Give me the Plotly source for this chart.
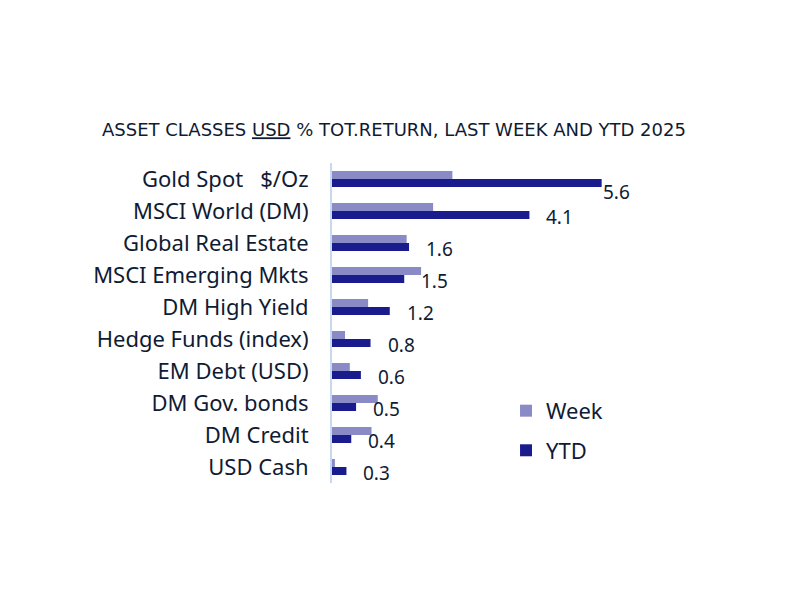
import plotly.graph_objects as go

categories = [
    "Gold Spot \u00a0 $/Oz",
    "MSCI World (DM)",
    "Global Real Estate",
    "MSCI Emerging Mkts",
    "DM High Yield",
    "Hedge Funds (index)",
    "EM Debt (USD)",
    "DM Gov. bonds",
    "DM Credit",
    "USD Cash",
]
week = [2.5, 2.1, 1.55, 1.85, 0.75, 0.27, 0.37, 0.95, 0.82, 0.06]
ytd = [5.6, 4.1, 1.6, 1.5, 1.2, 0.8, 0.6, 0.5, 0.4, 0.3]

WEEK_COLOR = "#8A8AC6"
YTD_COLOR = "#1A1C8E"
TEXT_COLOR = "#0F1B33"
FONT = "Noto Sans"
TITLE_FONT = "DejaVu Sans"

fig = go.Figure()
fig.add_trace(go.Bar(
    y=categories, x=week, orientation="h", name="Week",
    marker=dict(color=WEEK_COLOR, line=dict(width=0)),
    legendgroup="w",
))
fig.add_trace(go.Bar(
    y=categories, x=ytd, orientation="h", name="YTD",
    marker=dict(color=YTD_COLOR, line=dict(width=0)),
    legendgroup="y",
))

max_idx = ytd.index(max(ytd))
for i, (c, v) in enumerate(zip(categories, ytd)):
    if i == max_idx:
        xs, ys = -1, -13
    else:
        xs, ys = 15, -6
    fig.add_annotation(
        x=v, y=c, text=f"{v:.1f}", showarrow=False,
        xanchor="left", yanchor="middle", xshift=xs, yshift=ys,
        font=dict(family=FONT, size=19, color=TEXT_COLOR),
    )

fig.update_layout(
    width=800, height=600,
    paper_bgcolor="white", plot_bgcolor="white",
    margin=dict(l=324, r=163, t=155, b=125),
    barmode="group", bargap=0.5, bargroupgap=0,
    title=dict(
        text="ASSET CLASSES <u>USD</u> % TOT.RETURN, LAST WEEK AND YTD 2025",
        x=0.4825, xref="container", xanchor="center",
        y=1 - 122 / 600, yref="container", yanchor="middle",
        automargin=False,
        font=dict(family=TITLE_FONT, size=18, color=TEXT_COLOR),
    ),
    font=dict(family=FONT, color=TEXT_COLOR),
    showlegend=True,
    legend=dict(
        x=0.556, y=0.291, xanchor="left", yanchor="top",
        traceorder="grouped", tracegroupgap=8,
        font=dict(family=FONT, size=22, color=TEXT_COLOR),
        bgcolor="rgba(0,0,0,0)",
    ),
    xaxis=dict(
        range=[0, 6.5], showgrid=False, zeroline=False, automargin=False,
        showticklabels=False, showline=False, ticks="",
    ),
    yaxis=dict(
        range=[len(categories) - 0.5, -0.5], autorange=False,
        showgrid=False, zeroline=False, automargin=False,
        showline=True, linecolor="#C6D9F1", linewidth=2,
        ticks="", ticklabelstandoff=17,
        tickfont=dict(family=FONT, size=22, color=TEXT_COLOR),
    ),
)

fig.write_html("out.html")
